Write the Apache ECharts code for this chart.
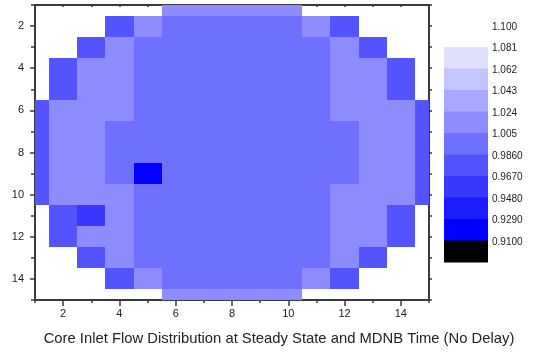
<!DOCTYPE html>
<html>
<head>
<meta charset="utf-8">
<script src="https://cdn.jsdelivr.net/npm/echarts@6/dist/echarts.min.js"></script>
<style>
  html, body { margin: 0; padding: 0; background: #fff; }
  #chart { width: 537px; height: 353px; }
</style>
</head>
<body>
<div id="chart"></div>
<script>
// Core inlet flow fraction per assembly position; rows run top (1) to bottom (15),
// columns left (1) to right (15). null = no assembly at that position.
const row01 = [null, null, null, null, null, 1.031, 1.031, 1.031, 1.031, 1.031, null, null, null, null, null];
const row02 = [null, null, null, 0.996, 1.031, 1.014, 1.014, 1.014, 1.014, 1.014, 1.031, 0.996, null, null, null];
const row03 = [null, null, 0.996, 1.031, 1.014, 1.014, 1.014, 1.014, 1.014, 1.014, 1.014, 1.031, 0.996, null, null];
const row04 = [null, 0.996, 1.031, 1.031, 1.014, 1.014, 1.014, 1.014, 1.014, 1.014, 1.014, 1.031, 1.031, 0.996, null];
const row05 = [null, 0.996, 1.031, 1.031, 1.014, 1.014, 1.014, 1.014, 1.014, 1.014, 1.014, 1.031, 1.031, 0.996, null];
const row06 = [0.996, 1.031, 1.031, 1.031, 1.014, 1.014, 1.014, 1.014, 1.014, 1.014, 1.014, 1.031, 1.031, 1.031, 0.996];
const row07 = [0.996, 1.031, 1.031, 1.014, 1.014, 1.014, 1.014, 1.014, 1.014, 1.014, 1.014, 1.014, 1.031, 1.031, 0.996];
const row08 = [0.996, 1.031, 1.031, 1.014, 1.014, 1.014, 1.014, 1.014, 1.014, 1.014, 1.014, 1.014, 1.031, 1.031, 0.996];
const row09 = [0.996, 1.031, 1.031, 1.014, 0.938, 1.014, 1.014, 1.014, 1.014, 1.014, 1.014, 1.014, 1.031, 1.031, 0.996];
const row10 = [0.996, 1.031, 1.031, 1.031, 1.014, 1.014, 1.014, 1.014, 1.014, 1.014, 1.014, 1.031, 1.031, 1.031, 0.996];
const row11 = [null, 0.996, 0.975, 1.031, 1.014, 1.014, 1.014, 1.014, 1.014, 1.014, 1.014, 1.031, 1.031, 0.996, null];
const row12 = [null, 0.996, 1.031, 1.031, 1.014, 1.014, 1.014, 1.014, 1.014, 1.014, 1.014, 1.031, 1.031, 0.996, null];
const row13 = [null, null, 0.996, 1.031, 1.014, 1.014, 1.014, 1.014, 1.014, 1.014, 1.014, 1.031, 0.996, null, null];
const row14 = [null, null, null, 0.996, 1.031, 1.014, 1.014, 1.014, 1.014, 1.014, 1.031, 0.996, null, null, null];
const row15 = [null, null, null, null, null, 1.031, 1.031, 1.031, 1.031, 1.031, null, null, null, null, null];
const flowRows = [row01, row02, row03, row04, row05, row06, row07, row08, row09, row10, row11, row12, row13, row14, row15];

// Colour scale: bin edges (low to high), one colour per bin, and the printed labels
const binEdges = [0.910, 0.929, 0.948, 0.967, 0.986, 1.005, 1.024, 1.043, 1.062, 1.081, 1.100];
const binColors = ['#000000', '#0000ff', '#1c1cff', '#3838ff', '#5454ff', '#7070ff', '#8c8cff', '#a8a8ff', '#c4c4ff', '#e0e0ff'];
const binLabels = ['0.9100', '0.9290', '0.9480', '0.9670', '0.9860', '1.005', '1.024', '1.043', '1.062', '1.081', '1.100'];

// Axis tick labels
const labelTicks = [2, 4, 6, 8, 10, 12, 14];
const plotTitle = 'Core Inlet Flow Distribution at Steady State and MDNB Time (No Delay)';

// Flatten the grid into [column, row, value] triples
const cells = [];
flowRows.forEach((row, r) => {
  row.forEach((v, c) => {
    if (v !== null) cells.push([c + 1, r + 1, v]);
  });
});

const pieces = binColors.map((color, i) => ({
  gte: binEdges[i],
  lt: binEdges[i + 1],
  color: color
}));

const AXIS_COLOR = '#3a3a3a';
const TEXT_COLOR = '#222';
const FONT = 'Liberation Sans, Arial, sans-serif';

function baseAxis(extra) {
  return Object.assign({
    type: 'value', min: 1, max: 15, interval: 1,
    gridIndex: 0,
    splitLine: { show: false },
    axisLine: { show: true, onZero: false, lineStyle: { color: AXIS_COLOR, width: 2 } },
    axisTick: { show: true, length: 3, lineStyle: { color: AXIS_COLOR, width: 1.5 } },
    axisLabel: { show: false }
  }, extra);
}

const evenLabel = {
  show: true,
  color: TEXT_COLOR,
  fontSize: 11,
  fontFamily: FONT,
  customValues: labelTicks,
  formatter: v => (labelTicks.indexOf(v) >= 0 ? String(v) : '')
};

// Legend built from the same bins used by the colour scale
const legendTop = 47, legendLeft = 444, blockW = 44, blockH = 21.5;
const legendGraphics = [];
const nBins = binColors.length;
for (let i = 0; i < nBins; i++) {
  const idx = nBins - 1 - i; // top block = highest bin
  legendGraphics.push({
    type: 'rect',
    shape: { x: legendLeft, y: legendTop + i * blockH, width: blockW, height: blockH + 0.5 },
    style: { fill: binColors[idx] },
    silent: true
  });
}
for (let i = 0; i < binLabels.length; i++) {
  const idx = binLabels.length - 1 - i;
  legendGraphics.push({
    type: 'text',
    x: 492, y: 27 + i * blockH,
    style: {
      text: binLabels[idx], fill: TEXT_COLOR, fontSize: 10, fontFamily: FONT,
      verticalAlign: 'middle', align: 'left'
    },
    silent: true
  });
}
legendGraphics.push({
  type: 'text',
  x: 279, y: 339,
  style: {
    text: plotTitle, fill: TEXT_COLOR, fontSize: 14.8, fontFamily: FONT,
    align: 'center', verticalAlign: 'middle'
  },
  silent: true
});

const chart = echarts.init(document.getElementById('chart'), null, { renderer: 'canvas' });
chart.setOption({
  animation: false,
  backgroundColor: '#ffffff',
  grid: { left: 35, top: 5, width: 394, height: 295, containLabel: false },
  xAxis: [
    baseAxis({ position: 'bottom', axisLabel: Object.assign({ margin: 8 }, evenLabel) }),
    baseAxis({ position: 'bottom', axisLine: { show: false },
      axisTick: { show: true, length: 6, customValues: labelTicks, lineStyle: { color: AXIS_COLOR, width: 1.5 } } }),
    baseAxis({ position: 'top', axisTick: { show: true, inside: true, length: 2, lineStyle: { color: AXIS_COLOR, width: 1.5 } } })
  ],
  yAxis: [
    baseAxis({ position: 'left', inverse: true, axisTick: { show: true, length: 4, lineStyle: { color: AXIS_COLOR, width: 1.5 } },
      axisLabel: Object.assign({ margin: 11 }, evenLabel) }),
    baseAxis({ position: 'left', inverse: true, axisLine: { show: false },
      axisTick: { show: true, length: 5, customValues: labelTicks, lineStyle: { color: AXIS_COLOR, width: 1.5 } } }),
    baseAxis({ position: 'right', inverse: true, axisTick: { show: true, length: 3, lineStyle: { color: AXIS_COLOR, width: 1.5 } } })
  ],
  visualMap: {
    type: 'piecewise',
    show: false,
    dimension: 2,
    seriesIndex: 0,
    pieces: pieces
  },
  graphic: legendGraphics,
  series: [{
    type: 'custom',
    xAxisIndex: 0,
    yAxisIndex: 0,
    data: cells,
    encode: { x: 0, y: 1 },
    z: 1,
    renderItem: function (params, api) {
      const cx = api.value(0), cy = api.value(1);
      const a = api.coord([cx - 0.5, cy - 0.5]);
      const b = api.coord([cx + 0.5, cy + 0.5]);
      const x0 = Math.round(Math.min(a[0], b[0])), x1 = Math.round(Math.max(a[0], b[0]));
      const y0 = Math.round(Math.min(a[1], b[1])), y1 = Math.round(Math.max(a[1], b[1]));
      const cs = params.coordSys;
      const shape = echarts.graphic.clipRectByRect(
        { x: x0, y: y0, width: x1 - x0, height: y1 - y0 },
        { x: cs.x, y: cs.y, width: cs.width, height: cs.height }
      );
      if (!shape) return null;
      return { type: 'rect', shape: shape, style: { fill: api.visual('color') } };
    }
  }]
});
</script>
</body>
</html>
